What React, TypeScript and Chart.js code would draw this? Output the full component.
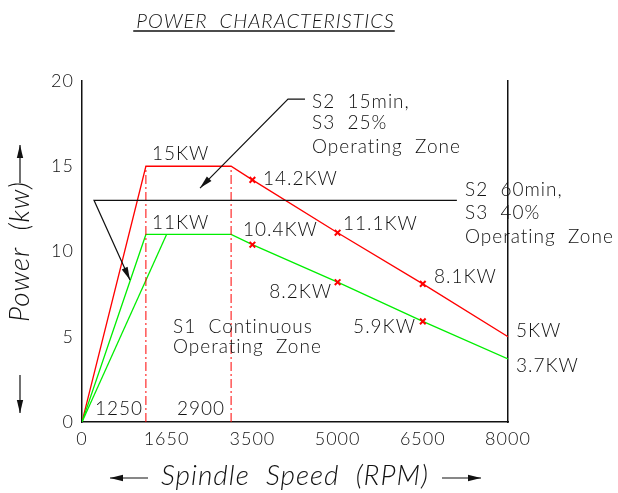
import React, { useEffect, useRef } from 'react';
import { Chart, registerables, LinearScale } from 'chart.js';

// ---------- data ----------
const SPEED_TICKS = [0, 1650, 3500, 5000, 6500, 8000];
const POWER_MIN = 0;
const POWER_MAX = 20;
const POWER_STEP = 5;

// S2 15min / S3 25% curve (red)
const S2_SPEED = [0, 1250, 2900, 3500, 5000, 6500, 8000];
const S2_POWER = [0, 15, 15, 14.2, 11.1, 8.1, 5];
// S1 continuous curve (green)
const S1_SPEED = [0, 1250, 2900, 3500, 5000, 6500, 8000];
const S1_POWER = [0, 11, 11, 10.4, 8.2, 5.9, 3.7];
// second S1 ramp (green)
const S1_RAMP_SPEED = [0, 1650];
const S1_RAMP_POWER = [0, 11];
// rated points marked with a cross
const RATED_SPEEDS = [3500, 5000, 6500];
// base speed lines (dash-dot)
const BASE_SPEEDS = [1250, 2900];
const BASE_LINE_TOP = 15;

// ---------- drawing's (not-to-scale) speed axis ----------
const AXIS_BREAKS = [0, 1250, 2900, 3500, 8000];
const AXIS_SPAN = [0, 0.15, 0.35, 0.4, 1];

function warp(v: number) {
  let i = 1;
  while (i < AXIS_BREAKS.length - 1 && v > AXIS_BREAKS[i]) i++;
  const b0 = AXIS_BREAKS[i - 1], b1 = AXIS_BREAKS[i];
  const f0 = AXIS_SPAN[i - 1], f1 = AXIS_SPAN[i];
  return f0 + ((v - b0) / (b1 - b0)) * (f1 - f0);
}
function unwarp(f: number) {
  let i = 1;
  while (i < AXIS_SPAN.length - 1 && f > AXIS_SPAN[i]) i++;
  const b0 = AXIS_BREAKS[i - 1], b1 = AXIS_BREAKS[i];
  const f0 = AXIS_SPAN[i - 1], f1 = AXIS_SPAN[i];
  return b0 + ((f - f0) / (f1 - f0)) * (b1 - b0);
}

class DrawingSpeedScale extends LinearScale {
  static id = 'drawingSpeed';
  getPixelForValue(value: any) {
    if (value === null || value === undefined || isNaN(value)) return NaN;
    return (this as any).getPixelForDecimal(warp(+value));
  }
  getValueForPixel(pixel: number) {
    return unwarp((this as any).getDecimalForPixel(pixel));
  }
}

Chart.register(...registerables, DrawingSpeedScale as any);

// ---------- styling ----------
const INK = '#111';
const RED = '#ff0000';
const GREEN = '#00ee00';
const FAMILY = 'Lato, "DejaVu Sans", sans-serif';
const NOTE_FONT = `300 19px ${FAMILY}`;
const SPACING = '1px';

type Note = { text: string; x: number; y: number; align: CanvasTextAlign };
const NOTES: Note[] = [
  { text: '15KW', x: 1366, y: 15.72, align: 'left' },
  { text: '11KW', x: 1366, y: 11.67, align: 'left' },
  { text: '14.2KW', x: 3687, y: 14.25, align: 'left' },
  { text: '10.4KW', x: 3236, y: 11.26, align: 'left' },
  { text: '11.1KW', x: 5095, y: 11.6, align: 'left' },
  { text: '8.2KW', x: 4902, y: 7.62, align: 'right' },
  { text: '8.1KW', x: 6697, y: 8.5, align: 'left' },
  { text: '5.9KW', x: 6380, y: 5.57, align: 'right' },
  { text: '5KW', x: 8141, y: 5.34, align: 'left' },
  { text: '3.7KW', x: 8141, y: 3.28, align: 'left' },
  { text: '1250', x: 1193, y: 0.76, align: 'right' },
  { text: '2900', x: 2782, y: 0.76, align: 'right' },
  { text: 'S1  Continuous', x: 1775, y: 5.57, align: 'left' },
  { text: 'Operating  Zone', x: 1775, y: 4.4, align: 'left' },
  { text: 'S2  15min,', x: 4550, y: 18.77, align: 'left' },
  { text: 'S3  25%', x: 4550, y: 17.54, align: 'left' },
  { text: 'Operating  Zone', x: 4550, y: 16.13, align: 'left' },
  { text: 'S2  60min,', x: 7243, y: 13.6, align: 'left' },
  { text: 'S3  40%', x: 7243, y: 12.26, align: 'left' },
  { text: 'Operating  Zone', x: 7243, y: 10.85, align: 'left' },
];

type Leader = { pts: [number, number][]; arrow: boolean };
const LEADERS: Leader[] = [
  { pts: [[7100, 13], [235, 13], [939, 8.33]], arrow: true },
  { pts: [[4426, 18.94], [4127, 18.94], [2298, 13.72]], arrow: true },
];

function arrowHead(ctx: CanvasRenderingContext2D, fx: number, fy: number, tx: number, ty: number, len: number, half: number) {
  const a = Math.atan2(ty - fy, tx - fx);
  const c = Math.cos(a), s = Math.sin(a);
  const bx = tx - c * len, by = ty - s * len;
  ctx.beginPath();
  ctx.moveTo(tx, ty);
  ctx.lineTo(bx - s * half, by + c * half);
  ctx.lineTo(bx + s * half, by - c * half);
  ctx.closePath();
  ctx.fill();
}
function arrow(ctx: CanvasRenderingContext2D, fx: number, fy: number, tx: number, ty: number) {
  ctx.beginPath();
  ctx.moveTo(fx, fy);
  ctx.lineTo(tx, ty);
  ctx.stroke();
  arrowHead(ctx, fx, fy, tx, ty, 13, 3.2);
}

const setSpacing = (chart: any) => {
  if (chart.ctx && 'letterSpacing' in chart.ctx) chart.ctx.letterSpacing = SPACING;
};

const drawingPlugin = {
  id: 'drawing',
  beforeUpdate(chart: any) {
    setSpacing(chart);
  },
  beforeDraw(chart: any) {
    setSpacing(chart);
  },
  afterDatasetsDraw(chart: any) {
    const { ctx, scales } = chart;
    const x = scales.x, y = scales.y;
    const px = (v: number) => x.getPixelForValue(v);
    const py = (v: number) => y.getPixelForValue(v);
    ctx.save();
    ctx.strokeStyle = INK;
    ctx.fillStyle = INK;
    ctx.lineWidth = 1.2;
    for (const l of LEADERS) {
      ctx.beginPath();
      l.pts.forEach(([sx, pw], i) => (i ? ctx.lineTo(px(sx), py(pw)) : ctx.moveTo(px(sx), py(pw))));
      ctx.stroke();
      if (l.arrow) {
        const n = l.pts.length;
        arrowHead(ctx, px(l.pts[n - 2][0]), py(l.pts[n - 2][1]), px(l.pts[n - 1][0]), py(l.pts[n - 1][1]), 13, 3.2);
      }
    }
    ctx.font = NOTE_FONT;
    ctx.textBaseline = 'middle';
    for (const t of NOTES) {
      ctx.textAlign = t.align;
      ctx.fillText(t.text, px(t.x), py(t.y));
    }
    ctx.restore();
  },
  afterDraw(chart: any) {
    const { ctx, chartArea } = chart;
    ctx.save();
    ctx.strokeStyle = INK;
    ctx.fillStyle = INK;
    ctx.lineWidth = 1.2;
    // axis title arrows
    const ax = 20;
    arrow(ctx, ax, chartArea.top + 102, ax, chartArea.top + 64);
    arrow(ctx, ax, chartArea.bottom - 47, ax, chartArea.bottom - 9);
    const ay = 478;
    arrow(ctx, chartArea.left + 66, ay, chartArea.left + 28, ay);
    arrow(ctx, chartArea.right - 66, ay, chartArea.right - 27, ay);
    // title underline
    const tb = chart.titleBlock;
    if (tb) {
      const opts = tb.options;
      ctx.font = `italic 300 ${opts.font.size}px ${FAMILY}`;
      const w = ctx.measureText(opts.text).width;
      const cx = (tb.left + tb.right) / 2;
      const cy = tb.top + opts.padding.top + (opts.font.size * 1.2) / 2;
      ctx.lineWidth = 1.4;
      ctx.beginPath();
      ctx.moveTo(cx - w / 2 - 3, cy + 9);
      ctx.lineTo(cx + w / 2, cy + 9);
      ctx.stroke();
    }
    ctx.restore();
  },
};

export default function App() {
  const ref = useRef<HTMLCanvasElement | null>(null);
  useEffect(() => {
    if (!ref.current) return;
    const pts = (xs: number[], ys: number[]) => xs.map((s, i) => ({ x: s, y: ys[i] }));
    const markRadius = (xs: number[]) => xs.map((s) => (RATED_SPEEDS.includes(s) ? 4 : 0));
    const tickFont = { family: FAMILY, size: 18, weight: '300' as any };
    const titleFont = { family: FAMILY, size: 28, weight: '300' as any, style: 'italic' as any };

    const chart = new Chart(ref.current, {
      type: 'line',
      data: {
        datasets: [
          ...BASE_SPEEDS.map((s) => ({
            label: `${s} rpm`,
            data: [{ x: s, y: 0 }, { x: s, y: BASE_LINE_TOP }],
            borderColor: RED,
            borderWidth: 1,
            borderDash: [9, 3, 2, 3],
            pointRadius: 0,
          })),
          {
            label: 'S1 ramp',
            data: pts(S1_RAMP_SPEED, S1_RAMP_POWER),
            borderColor: GREEN,
            borderWidth: 1.3,
            pointRadius: 0,
          },
          {
            label: 'S1 Continuous',
            data: pts(S1_SPEED, S1_POWER),
            borderColor: GREEN,
            borderWidth: 1.3,
            pointRadius: markRadius(S1_SPEED),
            pointStyle: 'crossRot',
            pointBorderColor: RED,
            pointBackgroundColor: RED,
            pointBorderWidth: 2,
          },
          {
            label: 'S2 15min, S3 25%',
            data: pts(S2_SPEED, S2_POWER),
            borderColor: RED,
            borderWidth: 1.3,
            pointRadius: markRadius(S2_SPEED),
            pointStyle: 'crossRot',
            pointBorderColor: RED,
            pointBackgroundColor: RED,
            pointBorderWidth: 2,
          },
        ] as any,
      },
      options: {
        responsive: false,
        animation: false,
        events: [],
        layout: { padding: { top: 0, left: 0, right: 87, bottom: 0 } },
        plugins: {
          legend: { display: false },
          tooltip: { enabled: false },
          title: {
            display: true,
            text: 'POWER  CHARACTERISTICS',
            color: INK,
            font: { family: FAMILY, size: 20, weight: '300' as any, style: 'italic' as any },
            padding: { top: 10, bottom: 47 },
          },
        },
        scales: {
          x: {
            type: 'drawingSpeed' as any,
            min: 0,
            max: 8000,
            afterBuildTicks: (s: any) => {
              s.ticks = SPEED_TICKS.map((v) => ({ value: v }));
            },
            afterFit: (s: any) => {
              s.height = 71;
            },
            grid: { display: false, drawTicks: false },
            border: { color: INK, width: 1.5 },
            ticks: {
              callback: (v: any) => String(v),
              font: tickFont,
              color: INK,
              padding: 6,
              maxRotation: 0,
              autoSkip: false,
            },
            title: {
              display: true,
              text: 'Spindle  Speed  (RPM)',
              color: INK,
              font: titleFont,
              padding: { top: 0, bottom: 0 },
            },
          } as any,
          y: {
            min: POWER_MIN,
            max: POWER_MAX,
            afterFit: (s: any) => {
              s.width = 82;
            },
            grid: { display: false, drawTicks: false },
            border: { color: INK, width: 1.5 },
            ticks: { stepSize: POWER_STEP, font: tickFont, color: INK, padding: 8 },
            title: {
              display: true,
              text: 'Power  (kw)',
              color: INK,
              font: titleFont,
              padding: { top: 3, bottom: 0 },
            },
          },
          y2: {
            position: 'right',
            min: POWER_MIN,
            max: POWER_MAX,
            display: true,
            afterFit: (s: any) => {
              s.width = 23;
            },
            grid: { display: false, drawTicks: false },
            border: { color: INK, width: 1.5 },
            ticks: { display: false },
          },
        },
      },
      plugins: [drawingPlugin],
    });
    return () => chart.destroy();
  }, []);

  return (
    <div style={{ position: 'fixed', left: 0, top: 0, width: 618, height: 493, background: '#fff' }}>
      <canvas ref={ref} width={618} height={493} style={{ display: 'block' }} />
    </div>
  );
}
